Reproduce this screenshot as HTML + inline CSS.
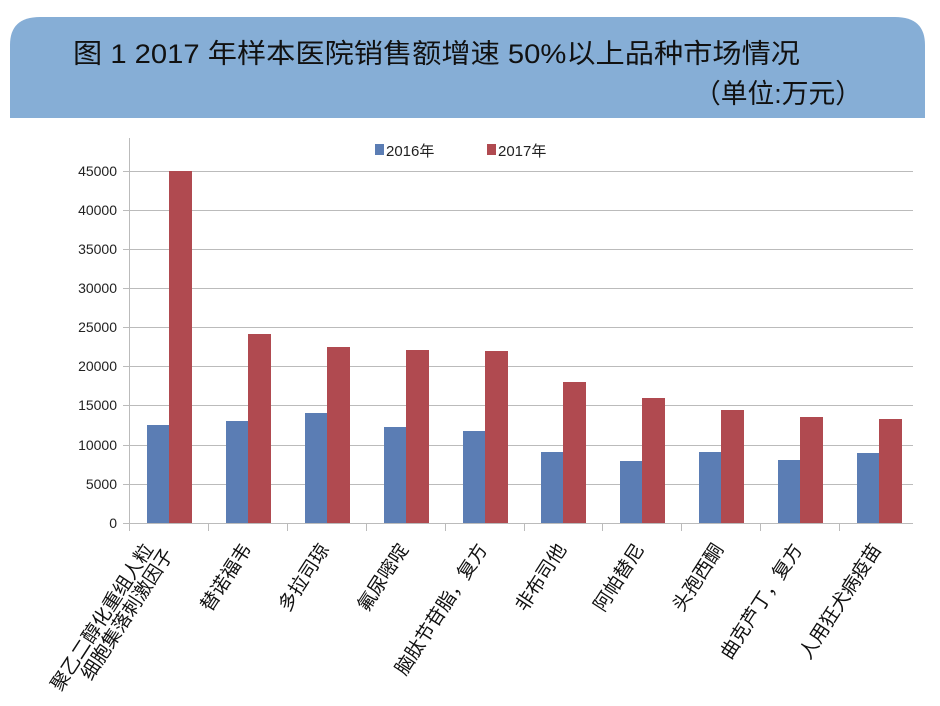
<!DOCTYPE html>
<html><head><meta charset="utf-8"><style>
body{margin:0;background:#fff;}
svg{display:block;font-family:"Liberation Sans","Noto Sans CJK SC",sans-serif;}
</style></head><body>
<svg width="940" height="706" viewBox="0 0 940 706">
<path d="M10 118 V45 Q10 17 40 17 H895 Q925 17 925 45 V118 Z" fill="#86aed6"/>
<text x="73" y="63" font-size="27" fill="#111" textLength="727" lengthAdjust="spacingAndGlyphs">图 1  2017 年样本医院销售额增速 50%以上品种市场情况</text>
<text x="694" y="103" font-size="27" fill="#111" textLength="168" lengthAdjust="spacingAndGlyphs">（单位:万元）</text>
<g stroke="#bbb" stroke-width="1">
<line x1="123" x2="913" y1="171.5" y2="171.5"/>
<line x1="123" x2="913" y1="210.5" y2="210.5"/>
<line x1="123" x2="913" y1="249.5" y2="249.5"/>
<line x1="123" x2="913" y1="288.5" y2="288.5"/>
<line x1="123" x2="913" y1="327.5" y2="327.5"/>
<line x1="123" x2="913" y1="366.5" y2="366.5"/>
<line x1="123" x2="913" y1="405.5" y2="405.5"/>
<line x1="123" x2="913" y1="445.5" y2="445.5"/>
<line x1="123" x2="913" y1="484.5" y2="484.5"/>
<line x1="123" x2="913" y1="523.5" y2="523.5"/>
<line x1="129.5" x2="129.5" y1="138" y2="531"/>
</g>
<g stroke="#bbb">
<line x1="208.5" x2="208.5" y1="523" y2="531"/><line x1="287.5" x2="287.5" y1="523" y2="531"/><line x1="366.5" x2="366.5" y1="523" y2="531"/><line x1="445.5" x2="445.5" y1="523" y2="531"/><line x1="524.5" x2="524.5" y1="523" y2="531"/><line x1="602.5" x2="602.5" y1="523" y2="531"/><line x1="681.5" x2="681.5" y1="523" y2="531"/><line x1="760.5" x2="760.5" y1="523" y2="531"/><line x1="839.5" x2="839.5" y1="523" y2="531"/>
</g>
<g font-size="14" fill="#222" text-anchor="end">
<text x="117" y="176">45000</text><text x="117" y="215">40000</text><text x="117" y="254">35000</text><text x="117" y="293">30000</text><text x="117" y="332">25000</text><text x="117" y="371">20000</text><text x="117" y="410">15000</text><text x="117" y="450">10000</text><text x="117" y="489">5000</text><text x="117" y="528">0</text>
</g>
<rect x="375" y="144" width="9" height="11" fill="#5b7db4"/><text x="386" y="156" font-size="15" fill="#222">2016年</text>
<rect x="487" y="144" width="9" height="11" fill="#b04a50"/><text x="498" y="156" font-size="15" fill="#222">2017年</text>
<g font-size="19" fill="#111" text-anchor="end">
<text transform="translate(154,549) rotate(-57)">聚乙二醇化重组人粒</text>
<text transform="translate(174,554) rotate(-57)">细胞集落刺激因子</text>
<text transform="translate(252,549) rotate(-57)">替诺福韦</text>
<text transform="translate(330,549) rotate(-57)">多拉司琼</text>
<text transform="translate(409,549) rotate(-57)">氟尿嘧啶</text>
<text transform="translate(488,549) rotate(-57)">脑肽节苷脂，复方</text>
<text transform="translate(567,549) rotate(-57)">非布司他</text>
<text transform="translate(645,549) rotate(-57)">阿帕替尼</text>
<text transform="translate(724,549) rotate(-57)">头孢西酮</text>
<text transform="translate(803,549) rotate(-57)">曲克芦丁，复方</text>
<text transform="translate(882,549) rotate(-57)">人用狂犬病疫苗</text>
</g>
<g>
<rect x="147" y="425" width="22" height="98" fill="#5b7db4"/><rect x="169" y="171" width="23" height="352" fill="#b04a50"/>
<rect x="226" y="421" width="22" height="102" fill="#5b7db4"/><rect x="248" y="334" width="23" height="189" fill="#b04a50"/>
<rect x="305" y="413" width="22" height="110" fill="#5b7db4"/><rect x="327" y="347" width="23" height="176" fill="#b04a50"/>
<rect x="384" y="427" width="22" height="96" fill="#5b7db4"/><rect x="406" y="350" width="23" height="173" fill="#b04a50"/>
<rect x="463" y="431" width="22" height="92" fill="#5b7db4"/><rect x="485" y="351" width="23" height="172" fill="#b04a50"/>
<rect x="541" y="452" width="22" height="71" fill="#5b7db4"/><rect x="563" y="382" width="23" height="141" fill="#b04a50"/>
<rect x="620" y="461" width="22" height="62" fill="#5b7db4"/><rect x="642" y="398" width="23" height="125" fill="#b04a50"/>
<rect x="699" y="452" width="22" height="71" fill="#5b7db4"/><rect x="721" y="410" width="23" height="113" fill="#b04a50"/>
<rect x="778" y="460" width="22" height="63" fill="#5b7db4"/><rect x="800" y="417" width="23" height="106" fill="#b04a50"/>
<rect x="857" y="453" width="22" height="70" fill="#5b7db4"/><rect x="879" y="419" width="23" height="104" fill="#b04a50"/>
</g>
</svg>
</body></html>
